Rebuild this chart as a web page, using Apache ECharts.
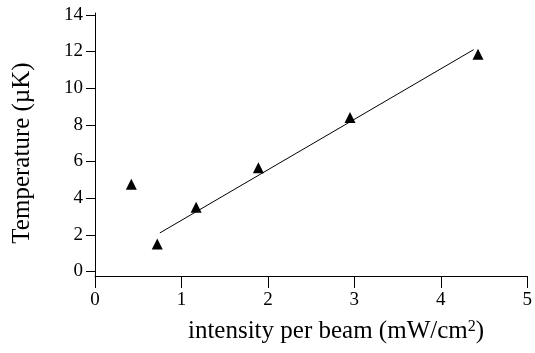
<!DOCTYPE html>
<html><head><meta charset="utf-8">
<script src="https://cdn.jsdelivr.net/npm/echarts@6/dist/echarts.min.js"></script>
<style>html,body{margin:0;padding:0;background:#fff}#c{width:535px;height:353px}</style>
</head><body><div id="c"></div>
<script>
const intensity = [0.42, 0.72, 1.17, 1.89, 2.95, 4.43];
const temperature = [4.75, 1.5, 3.5, 5.65, 8.4, 11.85];
const fitX = [0.75, 4.38];
const fitY = [2.1, 12.1];
const yTicks = [0, 2, 4, 6, 8, 10, 12, 14];
const xName = 'intensity per beam (mW/cm{sup|2})';
const yName = 'Temperature (µK)';

const chart = echarts.init(document.getElementById('c'));
chart.setOption({
  animation: false,
  grid: {left: 95, right: 5, top: 13, bottom: 77},
  xAxis: {type: 'value', min: 0, max: 5, interval: 1,
    axisLine: {show: true, onZero: false, lineStyle: {color: '#000', width: 1}},
    axisTick: {show: true, length: 12, lineStyle: {color: '#000'}},
    axisLabel: {fontFamily: 'Liberation Serif', fontSize: 19, color: '#000', margin: 15},
    splitLine: {show: false}},
  yAxis: {type: 'value', min: -0.25, max: 14.1,
    axisLine: {show: true, onZero: false, lineStyle: {color: '#000', width: 1}},
    axisTick: {show: true, length: 9, customValues: yTicks, lineStyle: {color: '#000'}},
    axisLabel: {customValues: yTicks, fontFamily: 'Liberation Serif', fontSize: 19, color: '#000', margin: 12},
    splitLine: {show: false}},
  graphic: [
    {type: 'text', x: 336, y: 331, silent: true,
      style: {text: xName, font: '25px "Liberation Serif"', fill: '#000', align: 'center', verticalAlign: 'middle',
        rich: {sup: {font: '16px "Liberation Serif"', fill: '#000', padding: [0, 0, 9, 0]}}}},
    {type: 'text', x: 22, y: 153, rotation: Math.PI / 2, silent: true,
      style: {text: yName, font: '25px "Liberation Serif"', fill: '#000', align: 'center', verticalAlign: 'middle'}}
  ],
  series: [{
    type: 'scatter', data: intensity.map((x, i) => [x, temperature[i]]),
    symbol: 'triangle', symbolSize: 11, itemStyle: {color: '#000', opacity: 1},
    markLine: {silent: true, symbol: 'none', label: {show: false},
      lineStyle: {color: '#000', width: 1, type: 'solid'},
      data: [[{coord: [fitX[0], fitY[0]]}, {coord: [fitX[1], fitY[1]]}]]}
  }]
});
</script></body></html>
